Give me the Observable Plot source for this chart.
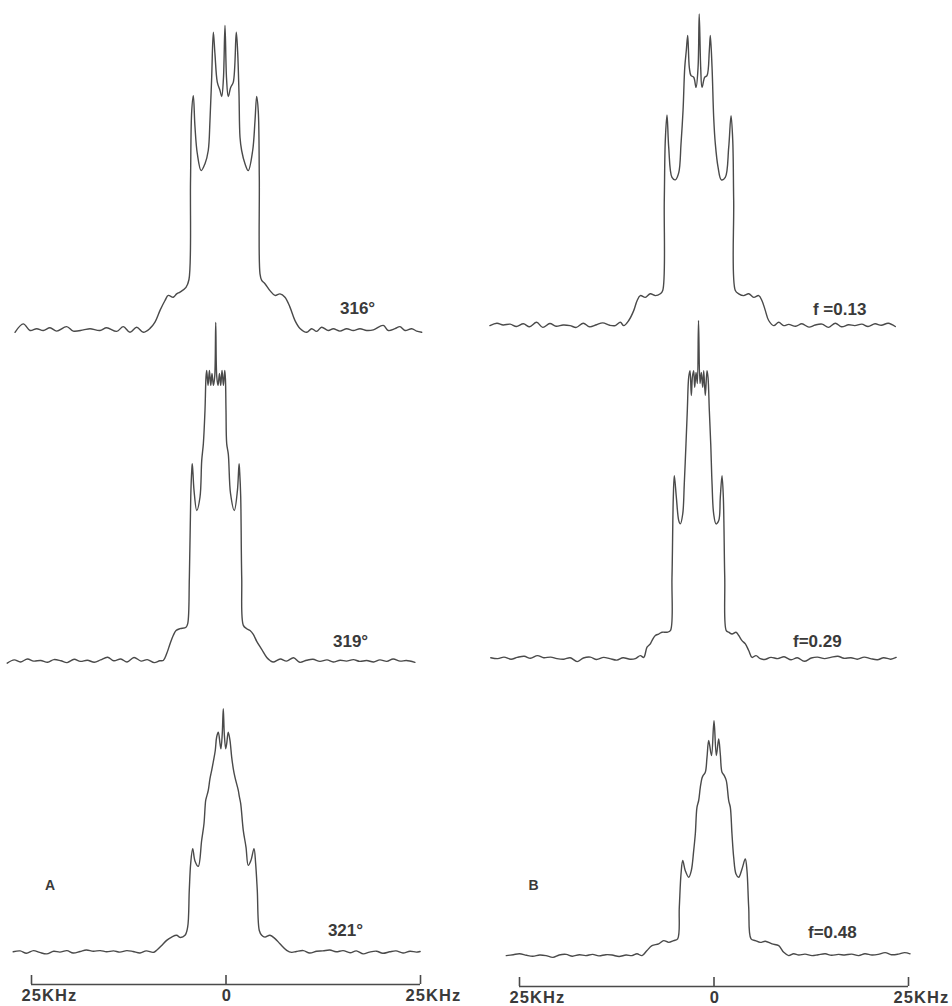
<!DOCTYPE html>
<html><head><meta charset="utf-8">
<script src="https://cdn.jsdelivr.net/npm/d3@7"></script>
<script src="https://cdn.jsdelivr.net/npm/@observablehq/plot@0.6"></script>
<style>
html,body{margin:0;padding:0;background:#fff;overflow:hidden}
#wrap{display:flex;width:952px;height:1006px}
g[aria-label="x-axis tick label"] text{letter-spacing:1.1px}
</style></head><body><div id="wrap"></div>
<script>
// ---- DATA: frequency offset (kHz, relative to line centre) vs intensity (a.u.) ----
const tickValues = [-25, 0, 25];
const tickLabels = ["25KHz", "0", "25KHz"];

const labelsA = ["316°", "319°", "321°"];
const labelsB = ["f =0.13", "f=0.29", "f=0.48"];
const panelNames = ["A", "B"];

// line centre of each recorded spectrum on the common frequency axis (kHz)
const centersA = [-0.13, -1.32, -0.35];
const centersB = [-1.90, -1.99, 0];

const spec316 = [[-26.99,-0.6],[-25.92,2.2],[-25.06,0],[-24.20,0.6],[-23.35,0],[-22.49,0.9],[-21.63,-0.2],[-20.35,1.3],[-19.50,-0.2],[-18.21,0.2],[-17.35,0.6],[-16.07,0],[-15.21,0.9],[-13.92,-0.3],[-13.07,1.3],[-12.21,-0.6],[-11.35,1.1],[-10.50,-0.6],
[-9.64,0.7],[-9.0,2.8],[-8.35,6.7],[-7.71,10],[-7.29,11.7],[-6.65,11.1],[-6.21,12.2],[-5.78,12.8],[-5.01,14.4],[-4.63,17],[-4.43,50],[-4.28,73],[-4.07,78.3],[-3.86,68],[-3.56,59],[-3.06,53.3],[-2.57,55.6],[-2.15,60],[-1.93,70],[-1.71,84.4],[-1.50,99.4],[-1.29,92.2],[-0.99,82.8],[-0.64,80],[-0.42,78],[-0.2,84],[0,101.7],[0.2,84],[0.42,78],[0.73,81],[1.07,82.8],[1.45,99.4],[1.63,92.8],[1.80,79],[1.93,64.4],[2.14,60],[2.57,55.6],[2.99,53.3],[3.56,60],[3.86,70],[4.07,78],[4.28,73],[4.41,51],[4.50,18.9],[4.72,16.7],[5.14,15.6],[5.78,13.3],[6.43,11.7],[7.07,12.2],[7.71,11.1],[8.35,7.8],[9.0,3.3],[9.64,0.7],
[10.50,-0.6],[11.14,0.6],[11.78,-0.3],[12.42,1.1],[13.28,0],[13.92,0.6],[14.78,-0.2],[15.64,0.6],[16.49,0],[17.35,0.6],[18.21,0],[19.07,0.2],[20.35,1.7],[20.99,0],[21.85,0.6],[22.49,1.3],[23.14,0],[24.0,0.6],[24.64,-0.2],[25.28,-0.6]];

const spec319 = [[-26.8,-0.6],[-25.9,0.5],[-25.1,-0.2],[-24.2,0.8],[-23.4,0.1],[-22.5,0.3],[-21.6,-0.3],[-20.8,0.6],[-19.9,0.2],[-19.1,-0.4],[-18.2,0.7],[-17.4,0],[-16.5,0.4],[-15.6,-0.3],[-14.8,0.5],[-13.9,1.4],[-13.1,0.2],[-12.2,0.8],[-11.4,-0.2],[-10.5,1.3],[-9.6,0.1],[-8.8,0.6],[-7.9,-0.4],[-7.2,0.2],
[-6.74,0.3],[-6.30,2.6],[-5.87,5.9],[-5.45,8.7],[-5.10,10.3],[-4.59,10.9],[-3.82,11.4],[-3.60,12.6],[-3.39,28],[-3.21,55],[-3.08,63.7],[-3.01,65.9],[-2.79,57],[-2.44,50.3],[-2.02,54.8],[-1.80,67],[-1.59,72.6],[-1.38,83.7],[-1.25,94.8],[-1.16,97],[-0.99,92],[-0.81,97],[-0.64,92],[-0.48,96],[-0.30,92],[-0.13,95],[0,113],[0.13,95],[0.30,92],[0.48,96],[0.64,92],[0.81,97],[0.99,92],[1.16,97],[1.25,94],[1.32,83.7],[1.41,72.6],[1.62,69],[1.90,56],[2.39,50.3],[2.79,57],[3.0,65.9],[3.08,63],[3.21,55],[3.34,28],[3.55,12],[3.98,10.9],[4.41,10.3],[4.83,9],[5.27,6.7],[5.91,4],[6.56,1.3],[6.98,0.3],
[7.4,-0.2],[8.3,0.8],[9.1,0.1],[10.0,1.2],[10.8,-0.3],[11.7,0.4],[12.5,0.7],[13.4,0],[14.3,0.5],[15.1,-0.2],[16.0,0.4],[16.8,0.1],[17.7,0.6],[18.5,0],[19.4,0.3],[20.3,-0.2],[21.1,0.5],[22.0,0],[22.8,0.8],[23.7,0.1],[24.5,0.3],[25.6,-0.3]];

const spec321 = [[-27.0,0.2],[-26.1,0.5],[-25.3,-0.3],[-24.4,0.6],[-23.6,0],[-22.7,-0.5],[-21.8,0.4],[-21.0,0.1],[-20.1,0.6],[-19.3,-0.2],[-18.4,0.3],[-17.6,0.8],[-16.7,0.4],[-15.8,0.6],[-15.0,0.2],[-14.1,0.5],[-13.3,0.1],[-12.4,0.6],[-11.6,0.3],[-10.7,-0.2],[-9.9,0.5],
[-9.00,0],[-8.56,0.7],[-7.92,2.3],[-7.28,4.0],[-6.63,5.1],[-5.99,5.7],[-5.57,5.0],[-4.92,5.7],[-4.58,8.4],[-4.37,20.7],[-4.19,29.6],[-3.93,34.6],[-3.64,30.5],[-3.21,28.7],[-2.78,37.3],[-2.48,42.9],[-2.26,50.7],[-2.13,52],[-1.93,54],[-1.71,57.9],[-1.49,60.7],[-1.29,63.4],[-1.03,67.3],[-0.85,71.8],[-0.64,73.4],[-0.42,69.6],[-0.30,67.9],[-0.13,72.9],[0,81.2],[0.13,72.9],[0.31,67.9],[0.44,69.6],[0.64,73.4],[0.86,70.7],[1.08,65.1],[1.29,61.2],[1.50,58.4],[1.93,54],[2.06,52],[2.24,49.6],[2.57,40.7],[2.92,35.1],[3.21,29],[3.56,30.7],[3.95,34.6],[4.16,29.6],[4.37,20.7],[4.63,7.3],[4.94,5.7],[5.36,5.1],[6.00,5.7],[6.65,4.6],[7.28,2.9],[8.15,0.7],[8.79,0],
[9.4,0.3],[10.3,0.6],[11.1,-0.2],[12.0,0.4],[12.8,0.5],[13.7,0.8],[14.5,0.2],[15.4,0.6],[16.3,-0.1],[17.1,0.5],[18.0,-0.5],[18.8,0.1],[19.7,0.4],[20.5,-0.3],[21.4,0.2],[22.2,0.5],[23.1,-0.2],[24.0,0.4],[24.8,0.1],[25.3,0.3]];

const specF13 = [[-26.9,0],[-26.0,0.8],[-25.2,0.2],[-24.3,0.5],[-23.5,-0.3],[-22.6,0.6],[-21.8,-0.4],[-20.9,1.1],[-20.1,-0.6],[-19.2,0.7],[-18.4,-0.2],[-17.5,0.2],[-16.6,0],[-15.8,-0.6],[-14.9,0.8],[-14.1,-0.4],[-13.2,0.3],[-12.4,0.9],[-11.5,0.1],
[-10.78,0],[-10.14,1.1],[-9.70,0],[-9.06,1.7],[-8.42,5],[-7.99,8.3],[-7.57,10],[-6.93,9.4],[-6.29,10.6],[-5.64,10],[-5.00,10.6],[-4.69,11.7],[-4.49,41.7],[-4.36,61.7],[-4.14,70.2],[-3.92,59.4],[-3.50,49.4],[-3.07,48.6],[-2.63,51],[-2.34,60.6],[-2.08,71.7],[-1.86,86],[-1.66,91.7],[-1.48,96.7],[-1.27,86],[-1.05,83.3],[-0.71,82.8],[-0.41,79.4],[-0.15,86],[0,103.9],[0.19,86],[0.36,79.4],[0.71,82.8],[1.00,83.3],[1.30,91.7],[1.43,96.7],[1.65,86],[1.86,69.4],[2.07,60.6],[2.42,52.8],[2.84,48.6],[3.35,49.4],[3.79,59.4],[4.09,70],[4.31,61.7],[4.43,41.7],[4.64,11.7],[5.08,10.6],[5.72,10],[6.36,10.6],[7.01,9.4],[7.65,10],[8.07,8.3],[8.50,5],[8.93,1.7],[9.58,0],[10.22,1.1],[10.86,0],
[11.5,0.4],[12.4,-0.2],[13.2,0.6],[14.1,-0.5],[14.9,0.2],[15.8,0.5],[16.6,-0.6],[17.5,0.8],[18.3,-0.4],[19.2,0.3],[20.0,0],[20.9,0.5],[21.7,-0.3],[22.6,0.6],[23.4,0.1],[24.3,0.8],[25.2,-0.3]];

const specF29 = [[-26.7,0.3],[-25.8,0],[-25.0,0.5],[-24.1,-0.2],[-23.3,0.4],[-22.4,0.8],[-21.6,0.1],[-20.7,1.0],[-19.9,0.3],[-19.0,0.5],[-18.2,0],[-17.3,-0.2],[-16.5,0.3],[-15.6,-1.0],[-14.8,0.2],[-13.9,0.5],[-13.1,-0.3],[-12.2,0.4],[-11.4,0],[-10.5,-0.5],[-9.7,0.3],[-8.8,-0.2],
[-8.12,0],[-7.48,1],[-7.04,0.4],[-6.62,3.8],[-6.20,4.9],[-5.98,6],[-5.55,7.7],[-5.12,8.2],[-4.69,8.8],[-4.05,8.8],[-3.62,9.3],[-3.41,27.1],[-3.24,53.8],[-3.11,61],[-2.85,53.8],[-2.54,46],[-2.34,44.9],[-2.03,48.2],[-1.83,58.2],[-1.61,71.6],[-1.44,82.7],[-1.26,93.8],[-1.09,96],[-0.93,87.7],[-0.78,94],[-0.62,96],[-0.49,90.4],[-0.32,95.4],[-0.15,91.7],[0,112.7],[0.19,91.7],[0.36,95.4],[0.54,90.4],[0.67,96],[0.87,87.7],[1.09,96],[1.22,93.8],[1.39,82.7],[1.57,71.6],[1.74,58.2],[1.95,48.2],[2.25,44.9],[2.60,46],[2.80,53.8],[3.02,61],[3.19,53.8],[3.37,27.1],[3.57,9.3],[3.88,8.8],[4.31,8.2],[4.82,8.8],[5.17,7.7],[5.59,6],[6.02,4.9],[6.45,2.7],[6.88,0.4],[7.39,1],[7.94,0],
[8.5,-0.3],[9.3,0.4],[10.2,0],[11.0,0.6],[11.9,-0.4],[12.7,0.3],[13.6,-0.9],[14.5,0.2],[15.3,0.5],[16.2,0],[17.0,0.4],[17.9,0.8],[18.7,0.1],[19.6,0.3],[20.4,-0.2],[21.3,0.5],[22.1,0],[23.0,-0.4],[23.8,0.3],[24.7,-0.2],[25.4,0.4]];

const specF48 = [[-26.7,0],[-25.8,0.3],[-25.0,0.6],[-24.1,0.1],[-23.3,-0.2],[-22.4,0.2],[-21.6,0],[-20.7,-0.6],[-19.9,0.2],[-19.0,0.4],[-18.2,-0.2],[-17.3,0.3],[-16.5,0],[-15.6,0.4],[-14.8,-0.1],[-13.9,0.3],[-13.1,0.2],[-12.2,-0.3],[-11.3,0.2],
[-10.54,0],[-9.90,0.6],[-9.25,0],[-8.61,1.7],[-7.97,3.3],[-7.11,3.9],[-6.47,5],[-5.82,4.4],[-5.18,5],[-4.67,5.6],[-4.46,16.1],[-4.24,27.2],[-4.02,31.7],[-3.69,28.3],[-3.25,26.1],[-2.92,28.3],[-2.61,35],[-2.40,40.6],[-2.19,49.4],[-1.97,51.7],[-1.76,56.1],[-1.54,59.2],[-1.41,60],[-1.12,61.1],[-0.90,66.1],[-0.68,71.7],[-0.32,66.7],[0,78.3],[0.30,66.7],[0.60,72.2],[0.81,67.2],[1.03,61.1],[1.32,60],[1.58,58.3],[1.89,51.7],[2.10,49.4],[2.31,40.6],[2.53,32.8],[2.83,27.2],[3.17,26.1],[3.60,28.9],[4.02,32.2],[4.24,28.3],[4.46,16.1],[4.76,5.6],[5.31,5],[5.95,4.4],[6.59,4.8],[7.46,3.9],[8.32,3.3],[8.96,1.1],[9.60,0],[10.24,0.6],
[10.9,0.2],[11.7,0.5],[12.6,0],[13.4,0.3],[14.3,0.6],[15.1,0.1],[16.0,0.4],[16.8,0.2],[17.7,0.5],[18.6,0],[19.4,0.6],[20.3,0.2],[21.1,0.4],[22.0,1.0],[22.8,0.3],[23.7,0.5],[24.5,1.0],[25.2,0.6]];

// ---- LAYOUT ----
const ink = "#4a4a4a";
const font = "Liberation Sans, Arial, sans-serif";

function panel(cfg) {
  const rows = cfg.traces.flatMap((pts, i) =>
    pts.map(([f, a]) => ({trace: i, f: f + cfg.centers[i], a: a + cfg.levels[i]})));
  const labelRows = cfg.labels.map((text, i) =>
    ({text, f: cfg.labelAt[i][0], a: cfg.levels[i] + cfg.labelAt[i][1]}));
  const txt = {fontFamily: font, fontWeight: "bold", fill: "#3a3a3a"};
  const fmt = v => tickLabels[tickValues.indexOf(v)];
  const axisText = {label: null, tickSize: 0, tickPadding: 5, tickFormat: fmt, fontSize: 16.5, ...txt};
  return Plot.plot({
    width: 476, height: 1006,
    marginLeft: cfg.marginLeft, marginRight: cfg.marginRight,
    marginTop: 0, marginBottom: cfg.marginBottom,
    style: {background: "#fff", overflow: "visible"},
    x: {domain: [-25, 25], axis: null},
    y: {domain: [0, cfg.ymax], axis: null},
    marks: [
      Plot.line(rows, {x: "f", y: "a", z: "trace", stroke: ink, strokeWidth: 1.4, curve: "catmull-rom"}),
      Plot.ruleY([0], {x1: -25, x2: 25, stroke: ink, strokeWidth: 1.6}),
      Plot.ruleX(tickValues, {y1: 0, y2: 3, stroke: ink, strokeWidth: 1.6}),
      Plot.axisX([tickValues[0]], {...axisText, textAnchor: "start", dx: -10}),
      Plot.axisX([tickValues[2]], {...axisText, textAnchor: "start", dx: -15}),
      Plot.axisX([tickValues[1]], {...axisText, dx: 1}),
      Plot.text(labelRows, {x: "f", y: "a", text: "text", textAnchor: "start", fontSize: 17, ...txt}),
      Plot.text([cfg.panel], {x: cfg.panelAt[0], y: cfg.levels[2] + cfg.panelAt[1], text: d => d, fontSize: 14, ...txt})
    ]
  });
}

const wrap = document.getElementById("wrap");
wrap.append(panel({
  traces: [spec316, spec319, spec321], centers: centersA, levels: [218, 107.7, 10.7],
  labels: labelsA, labelAt: [[14.65, 7.2], [13.75, 6.7], [13.1, 7.3]],
  panel: panelNames[0], panelAt: [-22.6, 22.4],
  marginLeft: 31, marginRight: 56, marginBottom: 22, ymax: 328
}));
wrap.append(panel({
  traces: [specF13, specF29, specF48], centers: centersB, levels: [220.3, 109.3, 10.3],
  labels: labelsB, labelAt: [[12.72, 5.3], [10.15, 5.7], [12.08, 7.7]],
  panel: panelNames[1], panelAt: [-23.2, 23.5],
  marginLeft: 43, marginRight: 44, marginBottom: 20, ymax: 328.67
}));
</script></body></html>
